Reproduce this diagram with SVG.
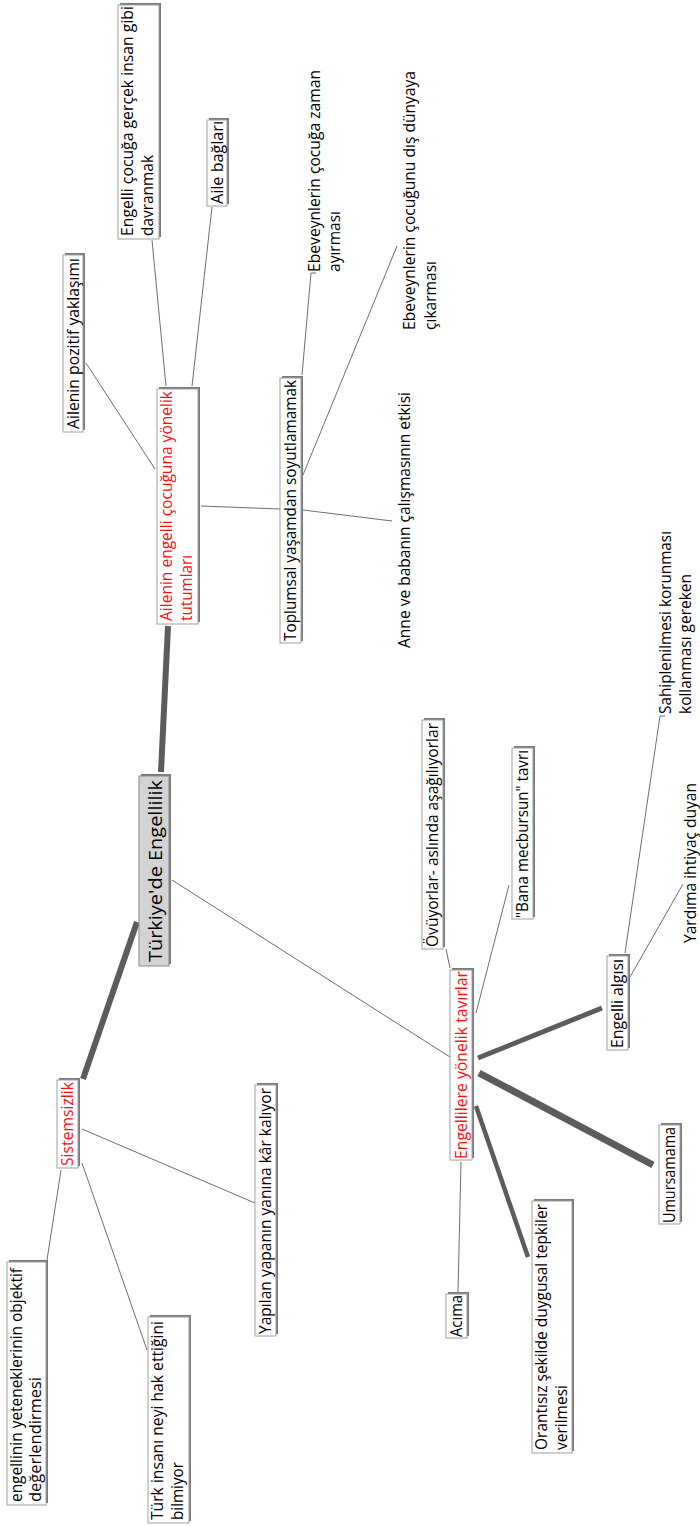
<svg xmlns="http://www.w3.org/2000/svg" width="700" height="1526" viewBox="0 0 700 1526">
<style>
text{font-family:"Open Sans","Noto Sans","DejaVu Sans",sans-serif;font-size:15.5px;fill:#000}
.red{fill:#ff1010}
.bx{fill:#fff;stroke:#a0a0a0;stroke-width:1}
.sh{fill:#7a7a7a}
.cbx{fill:#d3d3d3;stroke:#8a8a8a;stroke-width:1}
.thin{stroke:#6e6e6e;stroke-width:1;fill:none}
.thick{stroke:#5c5c5c;fill:none}
</style>
<rect width="700" height="1526" fill="#fff"/>
<g id="connectors">
<line class="thick" stroke-width="6" x1="161" y1="772" x2="168" y2="626"/>
<line class="thick" stroke-width="6" x1="137" y1="922" x2="83" y2="1079"/>
<line class="thin" x1="172" y1="880" x2="450" y2="1057"/>
<line class="thin" x1="155" y1="469" x2="86" y2="363"/>
<line class="thin" x1="166" y1="386" x2="152" y2="240"/>
<line class="thin" x1="192" y1="386" x2="212" y2="207"/>
<line class="thin" x1="201" y1="506" x2="280" y2="509"/>
<polyline class="thin" points="302,375 311,273 316,273"/>
<line class="thin" x1="303" y1="475" x2="397" y2="246"/>
<line class="thin" x1="303" y1="510" x2="392" y2="521"/>
<line class="thin" x1="61" y1="1170" x2="47" y2="1260"/>
<line class="thin" x1="82" y1="1163" x2="147" y2="1350"/>
<line class="thin" x1="82" y1="1129" x2="255" y2="1203"/>
<line class="thin" x1="450" y1="968" x2="446" y2="949"/>
<line class="thin" x1="476" y1="1013" x2="509" y2="885"/>
<line class="thick" stroke-width="5" x1="478" y1="1058" x2="602" y2="1008"/>
<line class="thick" stroke-width="7" x1="479" y1="1073" x2="653" y2="1165"/>
<line class="thick" stroke-width="4.5" x1="476" y1="1106" x2="528" y2="1257"/>
<line class="thin" x1="461" y1="1162" x2="458" y2="1292"/>
<polyline class="thin" points="625,953 660,716 665,716"/>
<line class="thin" x1="630" y1="977" x2="683" y2="884"/>
</g>
<g id="n-center" transform="translate(139,966) rotate(-90)">
<rect class="sh" x="2" y="2" width="190" height="30"/>
<rect class="cbx" x="0" y="0" width="190" height="30"/>
<text x="4" y="23" style="font-size:19px" textLength="182" lengthAdjust="spacingAndGlyphs">Türkiye'de Engellilik</text>
</g>
<g id="n-ailenin" transform="translate(157,624) rotate(-90)">
<rect class="sh" x="2" y="2" width="235" height="41"/>
<rect class="bx" x="0" y="0" width="235" height="41"/>
<text class="red" x="3" y="15" textLength="230" lengthAdjust="spacingAndGlyphs">Ailenin engelli çocuğuna yönelik</text>
<text class="red" x="3" y="35" textLength="66" lengthAdjust="spacingAndGlyphs">tutumları</text>
</g>
<g id="n-engellicocuga" transform="translate(118,239) rotate(-90)">
<rect class="sh" x="2" y="2" width="234" height="41"/>
<rect class="bx" x="0" y="0" width="234" height="41"/>
<text x="3" y="15" textLength="230" lengthAdjust="spacingAndGlyphs">Engelli çocuğa gerçek insan gibi</text>
<text x="3" y="35" textLength="81" lengthAdjust="spacingAndGlyphs">davranmak</text>
</g>
<g id="n-ailebaglari" transform="translate(207,206) rotate(-90)">
<rect class="sh" x="2" y="2" width="86" height="20"/>
<rect class="bx" x="0" y="0" width="86" height="20"/>
<text x="2" y="15.5" textLength="83" lengthAdjust="spacingAndGlyphs">Aile bağları</text>
</g>
<g id="n-pozitif" transform="translate(63,432) rotate(-90)">
<rect class="sh" x="2" y="2" width="177" height="20"/>
<rect class="bx" x="0" y="0" width="177" height="20"/>
<text x="3" y="15.5" textLength="171" lengthAdjust="spacingAndGlyphs">Ailenin pozitif yaklaşımı</text>
</g>
<g id="n-toplumsal" transform="translate(280,643) rotate(-90)">
<rect class="sh" x="2" y="2" width="265" height="21"/>
<rect class="bx" x="0" y="0" width="265" height="21"/>
<text x="2" y="16" textLength="261" lengthAdjust="spacingAndGlyphs">Toplumsal yaşamdan soyutlamamak</text>
</g>
<g id="n-ebevzaman" transform="translate(320,272) rotate(-90)">
<text x="0" y="0" textLength="202" lengthAdjust="spacingAndGlyphs">Ebeveynlerin çocuğa zaman</text>
<text x="0" y="20" textLength="61" lengthAdjust="spacingAndGlyphs">ayırması</text>
</g>
<g id="n-ebevdis" transform="translate(415,330) rotate(-90)">
<text x="0" y="0" textLength="259" lengthAdjust="spacingAndGlyphs">Ebeveynlerin çocuğunu dış dünyaya</text>
<text x="0" y="21" textLength="69" lengthAdjust="spacingAndGlyphs">çıkarması</text>
</g>
<g id="n-anne" transform="translate(410,648) rotate(-90)">
<text x="0" y="0" textLength="256" lengthAdjust="spacingAndGlyphs">Anne ve babanın çalışmasının etkisi</text>
</g>
<g id="n-sistemsizlik" transform="translate(57,1168) rotate(-90)">
<rect class="sh" x="2" y="2" width="88" height="21"/>
<rect class="bx" x="0" y="0" width="88" height="21"/>
<text class="red" x="2" y="16" textLength="84" lengthAdjust="spacingAndGlyphs">Sistemsizlik</text>
</g>
<g id="n-engellinin" transform="translate(7,1505) rotate(-90)">
<rect class="sh" x="2" y="2" width="243" height="39"/>
<rect class="bx" x="0" y="0" width="243" height="39"/>
<text x="3" y="15" textLength="234" lengthAdjust="spacingAndGlyphs">engellinin yeteneklerinin objektif</text>
<text x="3" y="34" textLength="125" lengthAdjust="spacingAndGlyphs">değerlendirmesi</text>
</g>
<g id="n-turk" transform="translate(148,1523) rotate(-90)">
<rect class="sh" x="2" y="2" width="206" height="41"/>
<rect class="bx" x="0" y="0" width="206" height="41"/>
<text x="3" y="15" textLength="199" lengthAdjust="spacingAndGlyphs">Türk insanı neyi hak ettiğini</text>
<text x="3" y="35" textLength="58" lengthAdjust="spacingAndGlyphs">bilmiyor</text>
</g>
<g id="n-yapilan" transform="translate(255,1336) rotate(-90)">
<rect class="sh" x="2" y="2" width="251" height="21"/>
<rect class="bx" x="0" y="0" width="251" height="21"/>
<text x="2" y="16" textLength="246" lengthAdjust="spacingAndGlyphs">Yapılan yapanın yanına kâr kalıyor</text>
</g>
<g id="n-engellilere" transform="translate(450,1160) rotate(-90)">
<rect class="sh" x="2" y="2" width="190" height="22"/>
<rect class="bx" x="0" y="0" width="190" height="22"/>
<text class="red" x="1" y="16.5" textLength="188" lengthAdjust="spacingAndGlyphs">Engellilere yönelik tavırlar</text>
</g>
<g id="n-ovuyorlar" transform="translate(422,949) rotate(-90)">
<rect class="sh" x="2" y="2" width="229" height="21"/>
<rect class="bx" x="0" y="0" width="229" height="21"/>
<text x="2" y="16" textLength="224" lengthAdjust="spacingAndGlyphs">Övüyorlar- aslında aşağılıyorlar</text>
</g>
<g id="n-bana" transform="translate(512,919) rotate(-90)">
<rect class="sh" x="2" y="2" width="171" height="21"/>
<rect class="bx" x="0" y="0" width="171" height="21"/>
<text x="1" y="16" textLength="168" lengthAdjust="spacingAndGlyphs">"Bana mecbursun" tavrı</text>
</g>
<g id="n-engellialgisi" transform="translate(607,1050) rotate(-90)">
<rect class="sh" x="2" y="2" width="94" height="21"/>
<rect class="bx" x="0" y="0" width="94" height="21"/>
<text x="2" y="16" textLength="89" lengthAdjust="spacingAndGlyphs">Engelli algısı</text>
</g>
<g id="n-umursamama" transform="translate(659,1224) rotate(-90)">
<rect class="sh" x="2" y="2" width="99" height="21"/>
<rect class="bx" x="0" y="0" width="99" height="21"/>
<text x="1" y="16" textLength="96" lengthAdjust="spacingAndGlyphs">Umursamama</text>
</g>
<g id="n-orantisiz" transform="translate(532,1453) rotate(-90)">
<rect class="sh" x="2" y="2" width="252" height="40"/>
<rect class="bx" x="0" y="0" width="252" height="40"/>
<text x="3" y="15" textLength="246" lengthAdjust="spacingAndGlyphs">Orantısız şekilde duygusal tepkiler</text>
<text x="3" y="35" textLength="65" lengthAdjust="spacingAndGlyphs">verilmesi</text>
</g>
<g id="n-acima" transform="translate(446,1338) rotate(-90)">
<rect class="sh" x="2" y="2" width="44" height="21"/>
<rect class="bx" x="0" y="0" width="44" height="21"/>
<text x="1" y="16" textLength="42" lengthAdjust="spacingAndGlyphs">Acıma</text>
</g>
<g id="n-sahiplenilmesi" transform="translate(671,714) rotate(-90)">
<text x="0" y="0" textLength="183" lengthAdjust="spacingAndGlyphs">Sahiplenilmesi korunması</text>
<text x="0" y="20" textLength="140" lengthAdjust="spacingAndGlyphs">kollanması gereken</text>
</g>
<g id="n-yardima" transform="translate(696,943) rotate(-90)">
<text x="0" y="0" textLength="160" lengthAdjust="spacingAndGlyphs">Yardıma ihtiyaç duyan</text>
</g>
</svg>
